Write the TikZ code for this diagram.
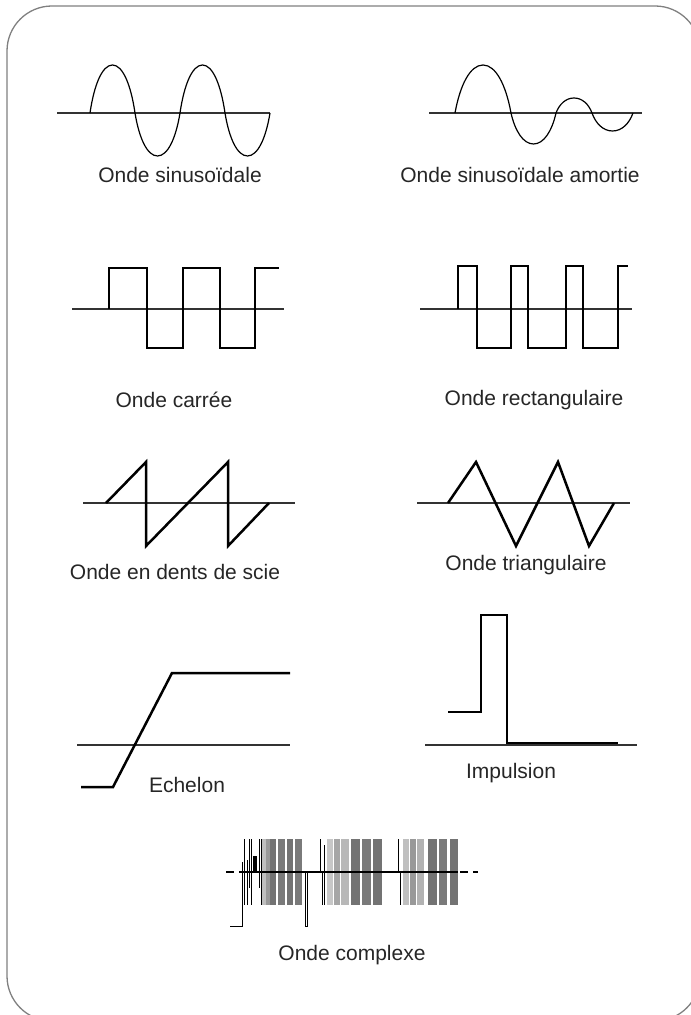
\documentclass[tikz,border=0pt]{standalone}
\usepackage{fontspec}
\setmainfont{Liberation Sans}
\usepackage{tikz}
\tikzset{axis line/.style={draw=black!80, line width=0.6pt}}
\tikzset{wave thin/.style={draw=black, line width=0.6pt}}
\tikzset{wave thick/.style={draw=black, line width=1.25pt, line join=miter}}
\tikzset{wave label/.style={font=\fontsize{10.5}{12}\selectfont, text=black!85, inner sep=0pt}}

\begin{document}
\begin{tikzpicture}[x=0.5pt, y=-0.5pt]
\useasboundingbox (0,0) rectangle (690,1015);
\draw[black!50, line width=0.65pt, rounded corners=22.5pt] (7,6) rectangle (700,1021);

% sinusoidale
\draw[axis line] (57,113) -- (270,113);
\foreach \xa/\xb/\ye in {90/135/65, 135/180/156, 180/225/65, 225/270/156}
  \draw[wave thin] (\xa,113) .. controls ({\xa+0.09*(\xb-\xa)},{113+0.58*(\ye-113)}) and ({\xa+0.27*(\xb-\xa)},\ye) .. ({(\xa+\xb)/2},\ye)
    .. controls ({\xb-0.27*(\xb-\xa)},\ye) and ({\xb-0.09*(\xb-\xa)},{113+0.58*(\ye-113)}) .. (\xb,113);
\node[wave label] (sinus) at (180,175) {Onde sinusoïdale};

% amortie
\draw[axis line] (429,113) -- (642,113);
\foreach \xa/\xb/\ye in {455/511/65, 511/556/144, 556/592/98, 592/633/131}
  \draw[wave thin] (\xa,113) .. controls ({\xa+0.09*(\xb-\xa)},{113+0.58*(\ye-113)}) and ({\xa+0.27*(\xb-\xa)},\ye) .. ({(\xa+\xb)/2},\ye)
    .. controls ({\xb-0.27*(\xb-\xa)},\ye) and ({\xb-0.09*(\xb-\xa)},{113+0.58*(\ye-113)}) .. (\xb,113);
\node[wave label] (amortie) at (520,175) {Onde sinusoïdale amortie};

% carree
\draw[axis line] (72,309) -- (284,309);
\draw[wave thick] (109,309) -- (109,268) -- (147,268) -- (147,348) -- (183,348) -- (183,268)
  -- (220,268) -- (220,348) -- (255,348) -- (255,268) -- (279,268);
\node[wave label] (carree) at (174,400) {Onde carrée};

% rectangulaire
\draw[axis line] (420,309) -- (632,309);
\draw[wave thick] (458,309) -- (458,266) -- (477,266) -- (477,348) -- (511,348) -- (511,266)
  -- (528,266) -- (528,348) -- (566,348) -- (566,266) -- (583,266) -- (583,348)
  -- (618,348) -- (618,266) -- (628,266);
\node[wave label] (rect) at (534,400) {Onde rectangulaire};

% dents de scie
\draw[axis line] (83,503) -- (295,503);
\draw[wave thick] (106,503) -- (146,462) -- (146,546) -- (228,462) -- (228,546) -- (269,503);
\node[wave label] (scie) at (175,572) {Onde en dents de scie};

% triangulaire
\draw[axis line] (417,503) -- (630,503);
\draw[wave thick] (448,503) -- (476,462) -- (516,546) -- (558,462) -- (589,546) -- (614,503);
\node[wave label] (tri) at (526,565) {Onde triangulaire};

% echelon
\draw[axis line] (77,745) -- (290,745);
\draw[wave thick] (81,787) -- (113,787) -- (172,673) -- (290,673);
\node[wave label] (echelon) at (187,785) {Echelon};

% impulsion
\draw[axis line] (425,745) -- (637,745);
\draw[wave thick] (448,712) -- (481,712) -- (481,615) -- (507,615) -- (507,743) -- (618,743);
\node[wave label] (impulsion) at (511,773) {Impulsion};

% complexe
\foreach \xa/\xb/\shade in {262/266/25, 266/270/40, 270/276/55, 278/285/52, 287/293/55, 295/302/52,
  327/333/22, 334/340/35, 341/349/28, 351/360/55, 362/371/52, 373/382/55,
  403/409/25, 410/416/40, 417/424/30, 428/437/55, 439/447/52, 450/458/55}
  \fill[black!\shade] (\xa,839) rectangle (\xb,905);
\foreach \xa/\ya/\yb in {244/839/905, 247/860/905, 249/839/888, 251/839/905, 259/839/888, 261/839/905,
  320/839/872, 322/872/905, 324/845/905, 398/839/872, 400/872/905}
  \draw[black, line width=0.45pt] (\xa,\ya) -- (\xa,\yb);
\fill[black] (253,856) rectangle (257,872);
\draw[black, line width=0.6pt, dash pattern=on 4pt off 2.5pt] (226,872) -- (478,872);
\draw[black, line width=0.6pt] (242,872) -- (458,872);
\draw[black, line width=0.5pt] (230,926) -- (242,926) -- (242,862);
\draw[black, line width=0.45pt] (305,872) rectangle (307.5,926);
\node[wave label] (complexe) at (352,955) {Onde complexe};
\end{tikzpicture}
\end{document}
